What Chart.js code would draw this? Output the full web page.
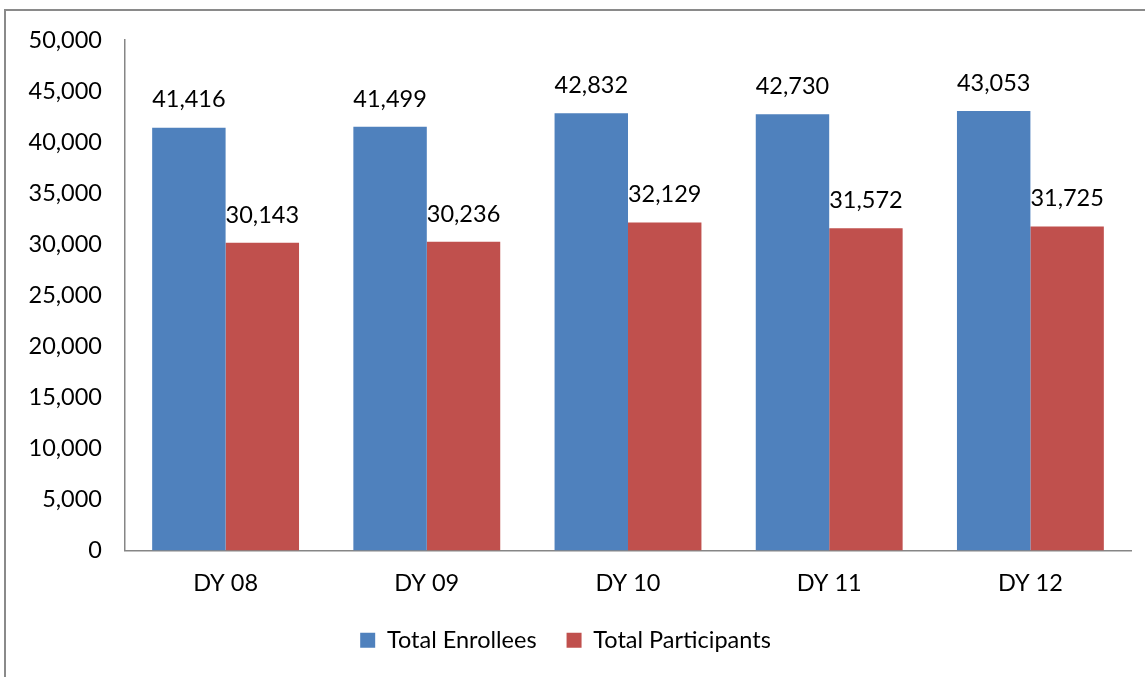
<!DOCTYPE html>
<html>
<head>
<meta charset="utf-8">
<script src="https://cdn.jsdelivr.net/npm/chart.js@4"></script>
<style>
    html, body { margin: 0; padding: 0; background: #fff; overflow: hidden; }
    #frame {
        position: absolute; left: 4px; top: 9px;
        width: 1200px; height: 720px;
        border: 2px solid #8a8a8a; box-sizing: border-box;
    }
    #wrap { position: absolute; left: 0; top: 0; width: 1145px; height: 677px; }
</style>
</head>
<body>
<div id="frame"></div>
<div id="wrap"><canvas id="chartEnrollment"></canvas></div>
<script>
const categories = ['DY 08', 'DY 09', 'DY 10', 'DY 11', 'DY 12'];
const totalEnrollees = [41416, 41499, 42832, 42730, 43053];
const totalParticipants = [30143, 30236, 32129, 31572, 31725];
const yTicks = [0, 5000, 10000, 15000, 20000, 25000, 30000, 35000, 40000, 45000, 50000];

const fontFamily = 'Lato, "Open Sans", sans-serif';
const fontSize = 23.5;

// labels above each bar
const barValueLabels = {
    id: 'barValueLabels',
    afterDatasetsDraw(chart) {
        const ctx = chart.ctx;
        ctx.save();
        ctx.font = fontSize + 'px ' + fontFamily;
        ctx.fillStyle = '#000';
        ctx.textAlign = 'center';
        ctx.textBaseline = 'bottom';
        chart.data.datasets.forEach(function(ds, i) {
            const meta = chart.getDatasetMeta(i);
            meta.data.forEach(function(bar, j) {
                ctx.fillText(ds.data[j].toLocaleString('en-US'), bar.x, bar.y - 16);
            });
        });
        ctx.restore();
    }
};

document.addEventListener("DOMContentLoaded", function() {
    new Chart(document.getElementById('chartEnrollment'), {
        type: 'bar',
        data: {
            labels: categories,
            datasets: [{
                label: 'Total Enrollees',
                data: totalEnrollees,
                backgroundColor: '#4F81BD',
                borderWidth: 0
            }, {
                label: 'Total Participants',
                data: totalParticipants,
                backgroundColor: '#C0504D',
                borderWidth: 0
            }]
        },
        options: {
            responsive: true,
            maintainAspectRatio: false,
            animation: false,
            layout: { padding: { top: 40, right: 14, left: 0, bottom: 15 } },
            datasets: { bar: { barPercentage: 1, categoryPercentage: 0.73 } },
            scales: {
                x: {
                    afterFit: function(scale) { scale.height = 48; },
                    grid: { display: false, drawTicks: false, tickLength: 0 },
                    border: { display: true, color: '#868686', width: 1.5 },
                    ticks: { color: '#000', padding: 19, font: { family: fontFamily, size: fontSize } }
                },
                y: {
                    min: 0,
                    max: 50000,
                    afterFit: function(scale) { scale.width = 125; },
                    afterBuildTicks: function(scale) {
                        scale.ticks = yTicks.map(v => ({ value: v }));
                    },
                    grid: { display: false, drawTicks: false, tickLength: 0 },
                    border: { display: true, color: '#868686', width: 1.5 },
                    ticks: {
                        color: '#000',
                        padding: 23,
                        font: { family: fontFamily, size: fontSize },
                        callback: v => v.toLocaleString('en-US')
                    }
                }
            },
            plugins: {
                legend: {
                    display: true,
                    position: 'bottom',
                    labels: {
                        boxWidth: 15,
                        boxHeight: 15,
                        padding: 30,
                        color: '#000',
                        font: { family: fontFamily, size: fontSize }
                    }
                },
                tooltip: { enabled: false }
            }
        },
        plugins: [barValueLabels]
    });
});
</script>
</body>
</html>
